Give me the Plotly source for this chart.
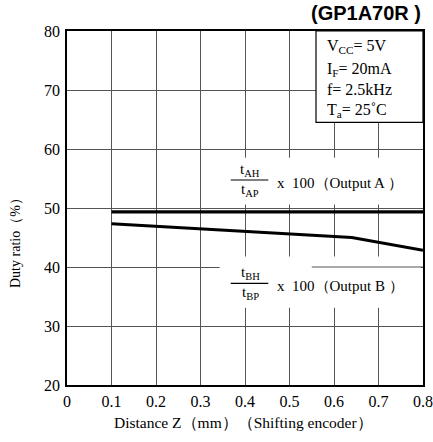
import plotly.graph_objects as go

# ---- data ----
x_ticks = [0, 0.1, 0.2, 0.3, 0.4, 0.5, 0.6, 0.7, 0.8]
x_tick_labels = ["0", "0.1", "0.2", "0.3", "0.4", "0.5", "0.6", "0.7", "0.8"]
y_ticks = [20, 30, 40, 50, 60, 70, 80]
y_tick_labels = ["20", "30", "40", "50", "60", "70", "80"]
distance_a = [0.1, 0.8]
duty_a = [49.35, 49.35]
distance_b = [0.1, 0.64, 0.8]
duty_b = [47.35, 45.0, 42.85]
conditions = ["V<sub>CC</sub>= 5V", "I<sub>F</sub>= 20mA", "f= 2.5kHz", "T<sub>a</sub>= 25˚C"]

W, H = 433, 442
L, R, T, B = 67, 10, 31, 57
PW, PH = W - L - R, H - T - B

def px(xp):
    return (xp - L) / PW

def py(yp):
    return 1 - (yp - T) / PH

SERIF = "Liberation Serif, Times New Roman, serif"

fig = go.Figure()
fig.add_trace(go.Scatter(x=distance_a, y=duty_a, mode="lines",
                         line=dict(color="black", width=3.2), showlegend=False))
fig.add_trace(go.Scatter(x=distance_b, y=duty_b, mode="lines",
                         line=dict(color="black", width=3), showlegend=False))

shapes = []
shapes.append(dict(type="rect", xref="x", yref="y", x0=0.33, x1=0.795, y0=50.6, y1=58.5,
                   fillcolor="white", line=dict(width=0), layer="between"))
shapes.append(dict(type="rect", xref="x", yref="y", x0=0.343, x1=0.795, y0=33.1, y1=41.8,
                   fillcolor="white", line=dict(width=0), layer="between"))
shapes.append(dict(type="line", xref="x", yref="y", x0=0.55, x1=0.8, y0=40, y1=40,
                   line=dict(color="#555", width=1), layer="between"))
shapes.append(dict(type="rect", xref="paper", yref="paper", x0=px(316), x1=1, y0=py(122.3), y1=1,
                   fillcolor="white", line=dict(color="black", width=1.2), layer="above"))
shapes.append(dict(type="line", xref="paper", yref="paper", x0=px(230.7), x1=px(268.3),
                   y0=py(180), y1=py(180), line=dict(color="black", width=1.2)))
shapes.append(dict(type="line", xref="paper", yref="paper", x0=px(230.7), x1=px(268.3),
                   y0=py(283.3), y1=py(283.3), line=dict(color="black", width=1.2)))

ann = []
ys = [46.7, 69, 90, 110]
for txt, yy in zip(conditions, ys):
    ann.append(dict(text=txt, x=px(325), y=py(yy), xref="paper", yref="paper",
                    xanchor="left", yanchor="middle", showarrow=False,
                    font=dict(family=SERIF, size=16, color="black")))

def frac(num, den, rest, ybar, yrest):
    cx = px(250)
    ann.append(dict(text=num, x=cx, y=py(ybar - 10), xref="paper", yref="paper",
                    xanchor="center", yanchor="middle", showarrow=False,
                    font=dict(family=SERIF, size=15, color="black")))
    ann.append(dict(text=den, x=cx, y=py(ybar + 10), xref="paper", yref="paper",
                    xanchor="center", yanchor="middle", showarrow=False,
                    font=dict(family=SERIF, size=15, color="black")))
    ann.append(dict(text=rest, x=px(275), y=py(yrest), xref="paper", yref="paper",
                    xanchor="left", yanchor="middle", showarrow=False,
                    font=dict(family=SERIF, size=15, color="black")))

frac("t<sub>AH</sub>", "t<sub>AP</sub>", "x  100（Output A ）", 180, 183)
frac("t<sub>BH</sub>", "t<sub>BP</sub>", "x  100（Output B ）", 283.3, 286)

ann.append(dict(text="<b>(GP1A70R )</b>", x=1.0, y=py(13), xref="paper", yref="paper",
                xanchor="right", yanchor="middle", showarrow=False,
                font=dict(family="Liberation Sans, Arial, sans-serif", size=20, color="black")))
ann.append(dict(text="Duty ratio（%）", x=px(15), y=py(240), xref="paper", yref="paper",
                xanchor="center", yanchor="middle", showarrow=False, textangle=-90,
                font=dict(family=SERIF, size=14, color="black")))
ann.append(dict(text="Distance Z（mm）（Shifting encoder）", x=px(243), y=py(422),
                xref="paper", yref="paper", xanchor="center", yanchor="middle",
                showarrow=False, font=dict(family=SERIF, size=15.5, color="black")))

fig.update_layout(
    width=W, height=H, autosize=False,
    margin=dict(l=L, r=R, t=T, b=B),
    paper_bgcolor="white", plot_bgcolor="white",
    shapes=shapes, annotations=ann,
    font=dict(family=SERIF, size=16, color="black"),
    xaxis=dict(range=[0, 0.8], tickvals=x_ticks, ticktext=x_tick_labels,
               showgrid=True, gridcolor="#555", gridwidth=1, zeroline=False,
               showline=True, linecolor="black", linewidth=1.5, mirror=True,
               ticks="", ticklabelstandoff=1, automargin=False,
               tickfont=dict(family=SERIF, size=16, color="black")),
    yaxis=dict(range=[20, 80], tickvals=y_ticks, ticktext=y_tick_labels,
               showgrid=True, gridcolor="#555", gridwidth=1, zeroline=False,
               showline=True, linecolor="black", linewidth=1.5, mirror=True,
               ticks="", ticklabelstandoff=2, automargin=False,
               tickfont=dict(family=SERIF, size=16, color="black")),
)

fig.write_html("out.html", config={"displayModeBar": False, "responsive": False},
               post_script="document.body.style.margin='0';document.body.style.overflow='hidden';")
